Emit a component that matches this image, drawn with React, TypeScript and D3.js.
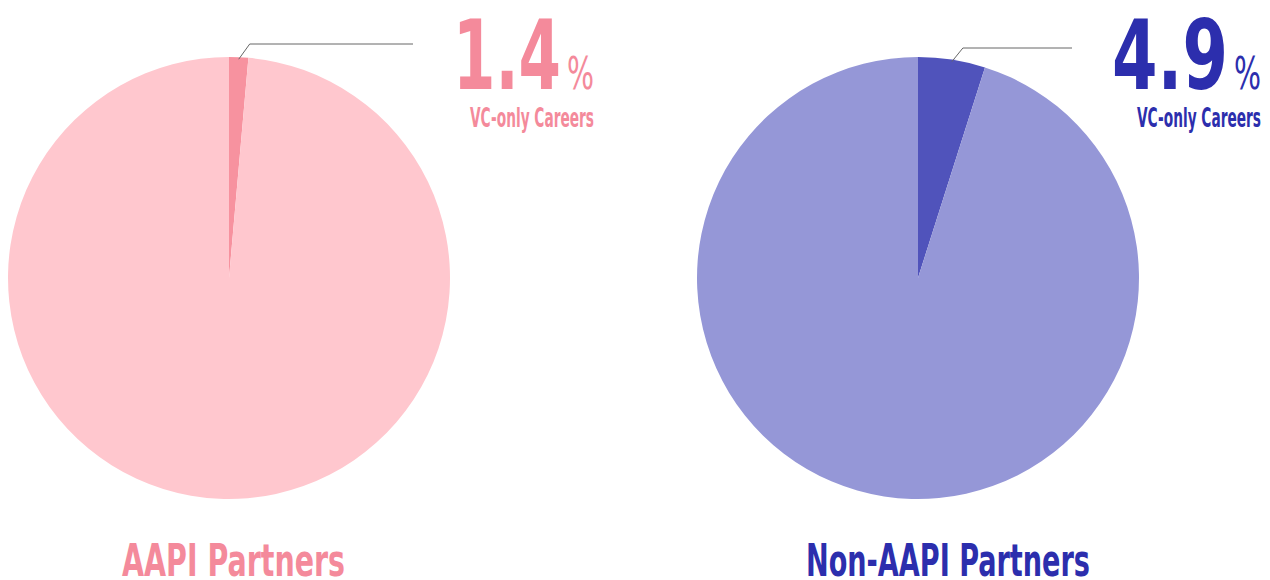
import { useEffect, useRef } from 'react';
import * as d3 from 'd3';

// chart data
const groups = ['AAPI Partners', 'Non-AAPI Partners'];
const vcOnlyShare = [1.4, 4.9];
const subLabel = 'VC-only Careers';
const mainColors = ['#FFC7CE', '#9597D7'];
const sliceColors = ['#F7929F', '#5053BB'];
const textColors = ['#F48A9B', '#2C2EAD'];

const W = 1270;
const H = 580;
const FONT = '"Liberation Sans Narrow", "DejaVu Sans Condensed", "Roboto", sans-serif';

function App() {
  const svgRef = useRef<SVGSVGElement>(null);

  useEffect(() => {
    const svg = d3.select(svgRef.current);
    svg.selectAll('*').remove();

    const radius = 221;
    const cx = d3.scalePoint<string>().domain(groups).range([229, 918]);
    const cy = 278;

    const pie = d3.pie<number>().sort(null).value((d) => d);
    const arc = d3.arc<d3.PieArcDatum<number>>().innerRadius(0).outerRadius(radius);

    // text block for each pie, right edge
    const textRight = [594, 1261];
    const numWidth = [108, 116];
    const numLeft = textRight.map((r, i) => r - 33 - numWidth[i]);
    const elbowY = [44, 48];

    groups.forEach((name, i) => {
      const v = vcOnlyShare[i];
      const g = svg.append('g').attr('transform', `translate(${cx(name)},${cy})`);
      const arcs = pie([v, 100 - v]);

      g.selectAll('path')
        .data(arcs)
        .enter()
        .append('path')
        .attr('fill', (_d, j) => (j === 0 ? sliceColors[i] : mainColors[i]))
        .attr('d', arc);

      // leader line from slice to label
      const mid = (arcs[0].startAngle + arcs[0].endAngle) / 2;
      const sx = (cx(name) as number) + Math.sin(mid) * radius;
      const sy = cy - Math.cos(mid) * radius;
      svg.append('polyline')
        .attr('points', `${sx},${sy + 2} ${sx + 11},${elbowY[i]} ${numLeft[i] - 40},${elbowY[i]}`)
        .attr('fill', 'none')
        .attr('stroke', '#666')
        .attr('stroke-width', 1);

      // big percentage
      svg.append('text')
        .attr('x', numLeft[i])
        .attr('y', 89)
        .attr('font-family', FONT)
        .attr('font-weight', 'bold')
        .attr('font-size', 96)
        .attr('textLength', numWidth[i])
        .attr('lengthAdjust', 'spacingAndGlyphs')
        .attr('fill', textColors[i])
        .text(d3.format('.1f')(v));

      svg.append('text')
        .attr('x', textRight[i])
        .attr('y', 89)
        .attr('text-anchor', 'end')
        .attr('font-family', FONT)
        .attr('font-weight', 'normal')
        .attr('font-size', 44)
        .attr('textLength', 27)
        .attr('lengthAdjust', 'spacingAndGlyphs')
        .attr('fill', textColors[i])
        .text('%');

      svg.append('text')
        .attr('x', textRight[i] - 124)
        .attr('y', 127)
        .attr('font-family', FONT)
        .attr('font-weight', 'bold')
        .attr('font-size', 27)
        .attr('textLength', 124)
        .attr('lengthAdjust', 'spacingAndGlyphs')
        .attr('fill', textColors[i])
        .text(subLabel);
    });

    // group titles
    const titleLeft = [122, 806];
    const titleWidth = [223, 284];
    groups.forEach((name, i) => {
      svg.append('text')
        .attr('x', titleLeft[i])
        .attr('y', 576)
        .attr('font-family', FONT)
        .attr('font-weight', 'bold')
        .attr('font-size', 44)
        .attr('textLength', titleWidth[i])
        .attr('lengthAdjust', 'spacingAndGlyphs')
        .attr('fill', textColors[i])
        .text(name);
    });
  }, []);

  return (
    <svg
      ref={svgRef}
      width={W}
      height={H}
      style={{ position: 'absolute', left: 0, top: 0, background: '#fff', display: 'block' }}
    />
  );
}

export default App;
